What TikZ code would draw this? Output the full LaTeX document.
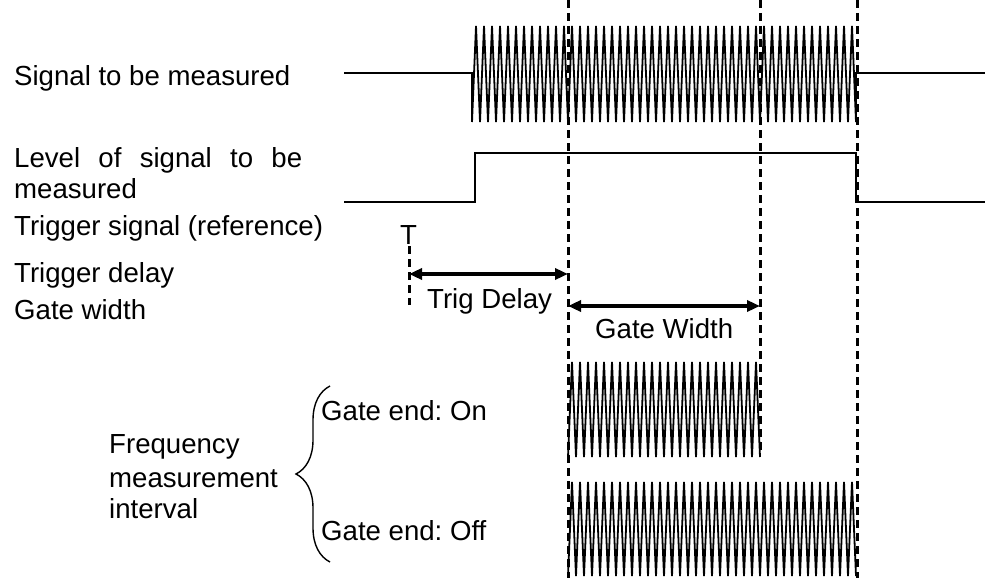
\documentclass[tikz,border=0pt]{standalone}
\usepackage{fontspec}
\setmainfont{Liberation Sans}
\usetikzlibrary{arrows.meta,decorations.pathreplacing}
\begin{document}
\frenchspacing
\begin{tikzpicture}[x=1pt,y=-1pt,
  sig/.style={line width=1.8pt},
  zz/.style={line width=1.8pt, line join=bevel},
  gate/.style={line width=3pt, dash pattern=on 8pt off 5pt},
  dim/.style={line width=3.5pt, {Triangle[length=13pt,width=11pt]}-{Triangle[length=13pt,width=11pt]}},
  lbl/.style={anchor=base west, inner sep=0pt, font=\fontsize{27.6}{32}\selectfont},
  ]
\useasboundingbox (0,0) rectangle (985,578);
% labels
\node[lbl] (l1) at (14,85) {Signal to be measured};
\node[lbl] (l2a) at (14,167) {\makebox[288pt][s]{Level of signal to be}};
\node[lbl] (l2b) at (14,198) {measured};
\node[lbl] (l3) at (14,235) {Trigger signal (reference)};
\node[lbl] (l4) at (14,282) {Trigger delay};
\node[lbl] (l5) at (14,319) {Gate width};
\node[lbl] (f1) at (109,453) {Frequency};
\node[lbl] (f2) at (109,487) {measurement};
\node[lbl] (f3) at (109,518) {interval};
\node[lbl] (on) at (321,420) {Gate end: On};
\node[lbl] (off) at (321,540) {Gate end: Off};
\node[lbl] (T) at (400,244) {T};
\node[lbl] (td) at (427,308) {Trig Delay};
\node[lbl] (gw) at (595,338) {Gate Width};
% signal to be measured
\draw[sig] (344,73) -- (472,73) -- (472,122);
\draw[zz] (472,122) \foreach \i in {1,...,48} { -- ++(4,-96) -- ++(4,96) };
\draw[sig] (856,122) -- (856,73) -- (985,73);
% level
\draw[sig] (344,202) -- (475,202) -- (475,153) -- (856,153) -- (856,202) -- (985,202);
% gate on / off waveforms
\draw[zz] (568,457) \foreach \i in {1,...,24} { -- ++(4,-95) -- ++(4,95) };
\draw[zz] (568,576) \foreach \i in {1,...,36} { -- ++(4,-94) -- ++(4,94) };
% dashed markers
\coordinate (g1t) at (568,0); \coordinate (g1b) at (568,578);
\coordinate (g2t) at (760,0); \coordinate (g2b) at (760,450);
\coordinate (g3t) at (857,0); \coordinate (g3b) at (857,578);
\coordinate (trt) at (409,246); \coordinate (trb) at (409,305);
\draw[gate] (g1t) -- (g1b);
\draw[gate] (g2t) -- (g2b);
\draw[gate] (g3t) -- (g3b);
\draw[gate] (trt) -- (trb);
% dimension arrows
\coordinate (a1) at (409,274); \coordinate (a2) at (568,274);
\coordinate (b1) at (568,306); \coordinate (b2) at (760,306);
\draw[dim] (a1) -- (a2);
\draw[dim] (b1) -- (b2);
% brace
\coordinate (bb) at (330,562); \coordinate (bt) at (330,386);
\draw[line width=1.4pt, decorate, decoration={brace, amplitude=34pt}] (bb) -- (bt);
\end{tikzpicture}
\end{document}
